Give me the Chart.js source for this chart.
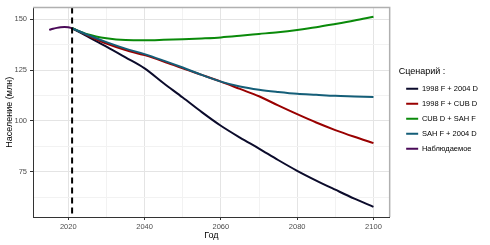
<!DOCTYPE html>
<html><head><meta charset="utf-8">
<script src="https://cdn.jsdelivr.net/npm/chart.js@4/dist/chart.umd.min.js"></script>
<style>html,body{margin:0;padding:0;background:#fff}#wrap{width:490px;height:245px}</style>
</head><body><div id="wrap"><canvas id="c" width="490" height="245"></canvas></div>
<script>
const observedYears = [2015, 2016, 2017, 2018, 2019, 2020, 2021];
const observedValues = [144.7, 145.3, 145.7, 146.0, 146.1, 146.0, 145.5];
const projYears = [2021, 2025, 2030, 2035, 2040, 2045, 2050, 2055, 2060, 2065, 2070, 2075, 2080, 2085, 2090, 2095, 2100];
const s1998F2004D = [145.5, 141.5, 136.5, 131.2, 125.8, 118.5, 111.5, 104.3, 97.6, 91.8, 86.4, 80.8, 75.5, 70.7, 66.2, 61.8, 57.8];
const s1998FCUBD = [145.5, 142.0, 138.0, 134.8, 132.3, 129.2, 125.8, 122.6, 119.3, 115.7, 112.1, 107.6, 103.3, 99.2, 95.5, 92.2, 89.1];
const sCUBDSAHF = [145.5, 142.6, 140.6, 139.7, 139.6, 139.8, 140.1, 140.5, 141.0, 141.8, 142.7, 143.6, 144.7, 146.0, 147.6, 149.3, 151.2];
const sSAHF2004D = [145.5, 142.3, 138.7, 135.5, 132.8, 129.6, 126.2, 122.6, 119.3, 116.9, 115.3, 114.2, 113.3, 112.8, 112.3, 112.0, 111.7];
const seriesNames = ['1998 F + 2004 D', '1998 F + CUB D', 'CUB D + SAH F', 'SAH F + 2004 D', 'Наблюдаемое'];
const seriesColors = ['#0b0b2b', '#990000', '#0a8a0a', '#145e78', '#4a0a58'];
const cutoffYear = 2021;
const xTickLabels = [2020, 2040, 2060, 2080, 2100];
const yTickLabels = [75, 100, 125, 150];

const pts = (xs, ys) => xs.map((x, i) => ({x, y: ys[i]}));
const allSeries = [pts(projYears, s1998F2004D), pts(projYears, s1998FCUBD), pts(projYears, sCUBDSAHF), pts(projYears, sSAHF2004D), pts(observedYears, observedValues)];
const orders = [4, 3, 2, 1, 0];
const datasets = allSeries.map((d, i) => ({
  label: seriesNames[i], data: d, borderColor: seriesColors[i], backgroundColor: seriesColors[i],
  borderWidth: 2, pointRadius: 0, cubicInterpolationMode: 'monotone', order: orders[i], fill: false
}));

const panelPlugin = {
  id: 'panel',
  afterLayout(chart) {
    const lg = chart.legend;
    if (lg) { lg.left += 9; lg.right += 9; }
  },
  afterDatasetsDraw(chart) {
    const {ctx, chartArea: a, scales: {x}} = chart;
    const px = x.getPixelForValue(cutoffYear);
    ctx.save();
    ctx.strokeStyle = '#000'; ctx.lineWidth = 2; ctx.setLineDash([6, 4]);
    ctx.beginPath(); ctx.moveTo(px, a.top); ctx.lineTo(px, a.bottom); ctx.stroke();
    ctx.setLineDash([]);
    ctx.strokeStyle = '#b0b0b0'; ctx.lineWidth = 1.5;
    ctx.beginPath(); ctx.moveTo(a.left, a.top); ctx.lineTo(a.right, a.top); ctx.lineTo(a.right, a.bottom); ctx.stroke();
    ctx.restore();
  }
};

const isMajorX = v => xTickLabels.includes(v);
const isMajorY = v => yTickLabels.includes(v);
const font = 'Liberation Sans, Arial, sans-serif';

new Chart(document.getElementById('c'), {
  type: 'line',
  data: {datasets},
  plugins: [panelPlugin],
  options: {
    responsive: false, animation: false,
    layout: {padding: {top: 5, right: 11, bottom: 4, left: 0}},
    plugins: {
      tooltip: {enabled: false},
      legend: {
        position: 'right', align: 'center', fullSize: false,
        title: {display: true, text: 'Сценарий :', position: 'start', color: '#000', font: {family: font, size: 9}, padding: {top: 2, bottom: 0}},
        labels: {boxWidth: 12, boxHeight: 0, padding: 7.5, color: '#000', font: {family: font, size: 7.5},
          sort: (a, b) => a.datasetIndex - b.datasetIndex}
      }
    },
    scales: {
      x: {
        type: 'linear', min: 2010.75, max: 2104.25,
        ticks: {stepSize: 10, includeBounds: false, autoSkip: false, maxRotation: 0, color: '#4d4d4d', font: {family: font, size: 7.5}, padding: 2,
          callback: v => isMajorX(v) ? String(v) : ''},
        grid: {color: c => isMajorX(c.tick && c.tick.value) ? '#e4e4e4' : '#f2f2f2', tickLength: 3,
          tickColor: c => isMajorX(c.tick && c.tick.value) ? '#333' : 'rgba(0,0,0,0)'},
        border: {color: '#333', width: 1},
        title: {display: true, text: 'Год', color: '#000', font: {family: font, size: 9}, padding: {top: 0, bottom: 0}},
        afterFit: s => { s.height = 24; }
      },
      y: {
        type: 'linear', min: 52.8, max: 155.7,
        ticks: {stepSize: 12.5, includeBounds: false, autoSkip: false, color: '#4d4d4d', font: {family: font, size: 7.5}, padding: 3,
          callback: v => isMajorY(v) ? String(v) : ''},
        grid: {color: c => isMajorY(c.tick && c.tick.value) ? '#e4e4e4' : '#f2f2f2', tickLength: 3,
          tickColor: c => isMajorY(c.tick && c.tick.value) ? '#333' : 'rgba(0,0,0,0)'},
        border: {color: '#333', width: 1},
        title: {display: true, text: 'Население (млн)', color: '#000', font: {family: font, size: 9}, padding: {top: 4, bottom: 0}},
        afterFit: s => { s.width = 33; }
      }
    }
  }
});
</script></body></html>
